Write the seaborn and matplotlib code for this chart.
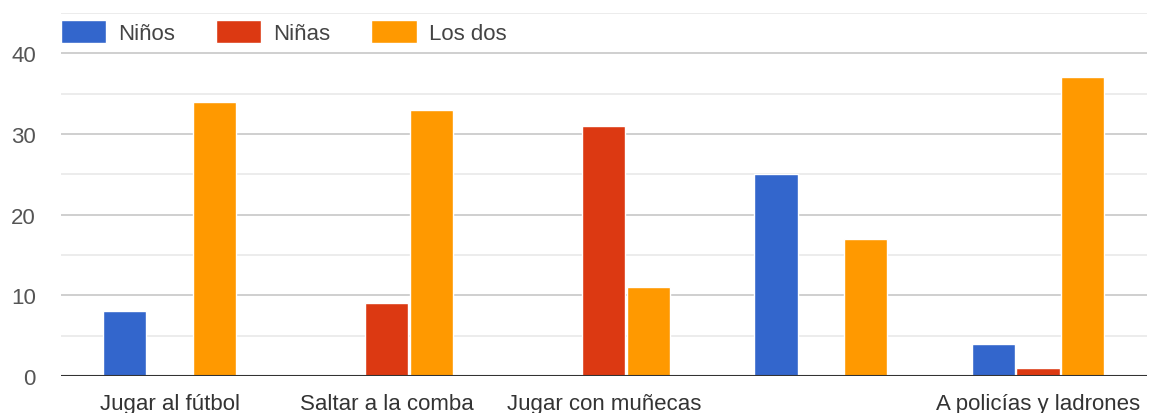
import pandas as pd
import matplotlib.pyplot as plt
import seaborn as sns

# categories (the 4th label is not shown in the original chart)
categories = ["Jugar al fútbol", "Saltar a la comba", "Jugar con muñecas", "", "A policías y ladrones"]
ninos = [8, 0, 0, 25, 4]
ninas = [0, 9, 31, 0, 1]
los_dos = [34, 33, 11, 17, 37]
series = ["Niños", "Niñas", "Los dos"]
colors = ["#3366cc", "#dc3912", "#ff9900"]

rows = []
for name, vals in zip(series, [ninos, ninas, los_dos]):
    for cat, v in zip(categories, vals):
        rows.append({"cat": cat, "serie": name, "valor": v})
df = pd.DataFrame(rows)

sns.set_style("white")
plt.rcParams["font.family"] = ["Liberation Sans", "DejaVu Sans"]

fig = plt.figure(figsize=(11.5, 4.14), dpi=100)
ax = fig.add_axes([0.053, 0.0894, 0.944, 0.877])

sns.barplot(data=df, x="cat", y="valor", hue="serie", order=categories,
            hue_order=series, palette=colors, width=0.62, gap=0.04,
            saturation=1, ax=ax)

ax.set_ylim(0, 45)
ax.set_xlim(-0.5, 4.5)
ax.set_yticks([0, 10, 20, 30, 40])
ax.set_yticks([5, 15, 25, 35, 45], minor=True)
ax.grid(axis="y", which="major", color="#cccccc", linewidth=1.3)
ax.grid(axis="y", which="minor", color="#ebebeb", linewidth=1.3)
ax.set_axisbelow(True)
ax.axhline(0, color="#333333", linewidth=1.5)
for s in ax.spines.values():
    s.set_visible(False)

ax.tick_params(axis="y", which="both", length=0, pad=18, labelsize=16, labelcolor="#555555")
ax.tick_params(axis="x", length=0, pad=12, labelsize=16, labelcolor="#333333")
ax.set_xlabel("")
ax.set_ylabel("")

ax.legend(loc="center left", bbox_to_anchor=(0.0, 0.948), ncol=3, frameon=False,
          handlelength=2.03, handleheight=1.2, handletextpad=0.54, columnspacing=1.85,
          fontsize=16, labelcolor="#444444", borderaxespad=0, borderpad=0)

fig.savefig("out.png", dpi=100)
